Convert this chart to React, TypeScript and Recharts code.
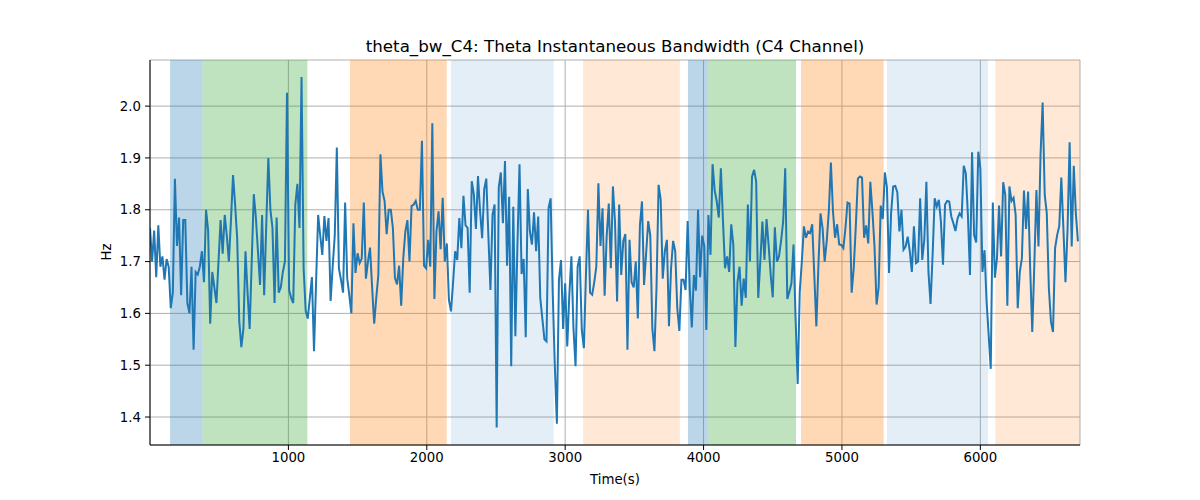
import {
  LineChart,
  Line,
  XAxis,
  YAxis,
  CartesianGrid,
  ReferenceArea,
} from "recharts";

// seconds between samples
const SAMPLE_STEP = 15;

const bandwidth = [
  1.765, 1.70, 1.76, 1.67, 1.77, 1.69, 1.71, 1.665, 1.705, 1.69,
  1.61, 1.64, 1.86, 1.73, 1.785, 1.635, 1.78, 1.78, 1.62, 1.60,
  1.69, 1.53, 1.68, 1.675, 1.69, 1.72, 1.66, 1.80, 1.76, 1.58,
  1.68, 1.65, 1.62, 1.70, 1.78, 1.715, 1.79, 1.75, 1.70, 1.78,
  1.867, 1.81, 1.745, 1.585, 1.535, 1.57, 1.72, 1.64, 1.57, 1.70,
  1.83, 1.785, 1.72, 1.655, 1.79, 1.635, 1.77, 1.90, 1.80, 1.765,
  1.62, 1.785, 1.64, 1.65, 1.68, 1.70, 2.026, 1.645, 1.63, 1.62,
  1.81, 1.85, 1.765, 2.056, 1.687, 1.605, 1.59,
  1.63, 1.67, 1.527, 1.66, 1.79, 1.75, 1.713, 1.788, 1.74, 1.784,
  1.624, 1.69, 1.75, 1.92, 1.687, 1.665, 1.64, 1.814, 1.668, 1.635,
  1.60, 1.774, 1.678, 1.716, 1.697, 1.706, 1.814, 1.667, 1.70, 1.727,
  1.65, 1.58, 1.63, 1.674, 1.907, 1.835, 1.817, 1.753, 1.80, 1.80,
  1.765, 1.668, 1.656, 1.692, 1.615, 1.706, 1.758, 1.78, 1.70, 1.807,
  1.81, 1.817, 1.80, 1.80, 1.933, 1.692, 1.687, 1.742, 1.69, 1.967,
  1.628, 1.758, 1.797, 1.724, 1.823, 1.70, 1.735, 1.626, 1.604, 1.66,
  1.72, 1.703, 1.784,
  1.726, 1.827, 1.77, 1.765, 1.64, 1.855, 1.83, 1.763, 1.865, 1.797,
  1.745, 1.84, 1.86, 1.75, 1.645, 1.79, 1.81, 1.38, 1.843, 1.872,
  1.774, 1.894, 1.692, 1.825, 1.498, 1.806, 1.556, 1.732, 1.888, 1.676,
  1.705, 1.554, 1.84, 1.758, 1.733, 1.795, 1.72, 1.787, 1.63, 1.59,
  1.55, 1.546, 1.803, 1.822, 1.64, 1.50, 1.387, 1.665, 1.703, 1.57,
  1.658, 1.536, 1.636, 1.71, 1.57, 1.498, 1.69, 1.71, 1.568, 1.533,
  1.674, 1.80, 1.64, 1.636, 1.66, 1.69, 1.851, 1.73, 1.803, 1.634,
  1.75, 1.812, 1.687,
  1.845, 1.777, 1.623, 1.81, 1.674, 1.74, 1.753, 1.53, 1.742, 1.66,
  1.65, 1.70, 1.59, 1.77, 1.816, 1.655, 1.716, 1.778, 1.75, 1.57,
  1.527, 1.65, 1.848, 1.82, 1.667, 1.72, 1.742, 1.575, 1.687, 1.74,
  1.72, 1.61, 1.566, 1.665, 1.665, 1.645, 1.778, 1.65, 1.573, 1.674,
  1.644, 1.80, 1.67, 1.75, 1.73, 1.568, 1.79, 1.713, 1.888, 1.838,
  1.816, 1.785, 1.88, 1.78, 1.687, 1.71, 1.68, 1.772, 1.732, 1.535,
  1.66, 1.69, 1.615, 1.667, 1.63, 1.81, 1.70, 1.864, 1.877, 1.855,
  1.63, 1.70, 1.777,
  1.703, 1.782, 1.732, 1.674, 1.631, 1.766, 1.70, 1.71, 1.74, 1.777,
  1.88, 1.628, 1.642, 1.658, 1.733, 1.59, 1.464, 1.642, 1.70, 1.768,
  1.746, 1.758, 1.755, 1.772, 1.674, 1.575, 1.694, 1.793, 1.764, 1.70,
  1.74, 1.797, 1.891, 1.797, 1.746, 1.772, 1.733, 1.732, 1.726, 1.764,
  1.814, 1.812, 1.64, 1.687, 1.768, 1.86, 1.864, 1.862, 1.746, 1.77,
  1.735, 1.854, 1.797, 1.73, 1.617, 1.65, 1.808, 1.782, 1.872, 1.843,
  1.678, 1.793, 1.845, 1.846, 1.834, 1.758, 1.80, 1.723, 1.729, 1.748,
  1.72, 1.68, 1.768,
  1.697, 1.70, 1.822, 1.703, 1.742, 1.854, 1.68, 1.618, 1.713, 1.822,
  1.806, 1.819, 1.777, 1.694, 1.81, 1.817, 1.816, 1.787, 1.774, 1.759,
  1.783, 1.793, 1.787, 1.885, 1.87, 1.79, 1.674, 1.911, 1.751, 1.737,
  1.912, 1.88, 1.68, 1.722, 1.623, 1.559, 1.493, 1.814, 1.669, 1.706,
  1.808, 1.71, 1.853, 1.829, 1.615, 1.845, 1.817, 1.823, 1.79, 1.61,
  1.68, 1.706, 1.837, 1.763, 1.835, 1.687, 1.564, 1.694, 1.838, 1.729,
  1.907, 2.007, 1.829, 1.793, 1.649, 1.584, 1.564, 1.726, 1.751, 1.768,
  1.862, 1.764, 1.66, 1.761, 1.93, 1.729, 1.885, 1.793, 1.739,
];

// shaded segments: start, end (s) and colour
const segStart = [145, 380, 1445, 2175, 3129, 3887, 4034, 4704, 5325, 6108];
const segEnd = [380, 1137, 2144, 2917, 3829, 4034, 4668, 5301, 6055, 6720];
const segColor = [
  "#1f77b4", "#2ca02c", "#ff7f0e", "#1f77b4", "#ff7f0e",
  "#1f77b4", "#2ca02c", "#ff7f0e", "#1f77b4", "#ff7f0e",
];
const segOpacity = [0.3, 0.3, 0.3, 0.12, 0.17, 0.3, 0.3, 0.3, 0.12, 0.17];

const xTicks = [1000, 2000, 3000, 4000, 5000, 6000];
const yTicks = [1.4, 1.5, 1.6, 1.7, 1.8, 1.9, 2.0];

const data = bandwidth.map((v, i) => ({ t: i * SAMPLE_STEP, hz: v }));

const font = "DejaVu Sans, sans-serif";

export default function App() {
  return (
    <div
      style={{
        position: "absolute",
        left: 0,
        top: 0,
        width: 1200,
        height: 500,
        background: "#fff",
        fontFamily: font,
      }}
    >
      <div
        style={{
          position: "absolute",
          left: 150,
          width: 930,
          top: 36,
          textAlign: "center",
          fontSize: 16.7,
          color: "#000",
        }}
      >
        theta_bw_C4: Theta Instantaneous Bandwidth (C4 Channel)
      </div>
      <div
        style={{
          position: "absolute",
          left: 150,
          width: 930,
          top: 472,
          textAlign: "center",
          fontSize: 13.3,
          color: "#000",
        }}
      >
        Time(s)
      </div>
      <div
        style={{
          position: "absolute",
          left: 106,
          top: 252,
          transform: "translate(-50%, -50%) rotate(-90deg)",
          fontSize: 13.3,
          color: "#000",
        }}
      >
        Hz
      </div>
      <LineChart
        width={1200}
        height={500}
        data={data}
        margin={{ top: 60, right: 120, bottom: 0, left: 0 }}
      >
        <CartesianGrid stroke="#b0b0b0" strokeWidth={1} />
        {segStart.map((s, i) => (
          <ReferenceArea
            key={i}
            x1={s}
            x2={segEnd[i]}
            fill={segColor[i]}
            fillOpacity={segOpacity[i]}
            stroke="none"
            ifOverflow="hidden"
          />
        ))}
        <XAxis
          dataKey="t"
          type="number"
          domain={[0, 6720]}
          ticks={xTicks}
          height={55}
          stroke="#000"
          tickSize={5}
          tickMargin={3}
          tick={{ fill: "#000", fontSize: 13.3, fontFamily: font }}
          allowDataOverflow
        />
        <YAxis
          type="number"
          domain={[1.346, 2.089]}
          ticks={yTicks}
          width={150}
          stroke="#000"
          tickSize={5}
          tickMargin={4}
          tickFormatter={(v: number) => v.toFixed(1)}
          tick={{ fill: "#000", fontSize: 13.3, fontFamily: font }}
          allowDataOverflow
        />
        <XAxis xAxisId="top" orientation="top" type="number" domain={[0, 6720]} height={0} tick={false} tickLine={false} stroke="#000" />
        <YAxis yAxisId="right" orientation="right" width={0} tick={false} tickLine={false} stroke="#000" />
        <Line
          type="linear"
          dataKey="hz"
          stroke="#1f77b4"
          strokeWidth={2}
          dot={false}
          isAnimationActive={false}
        />
      </LineChart>
    </div>
  );
}
